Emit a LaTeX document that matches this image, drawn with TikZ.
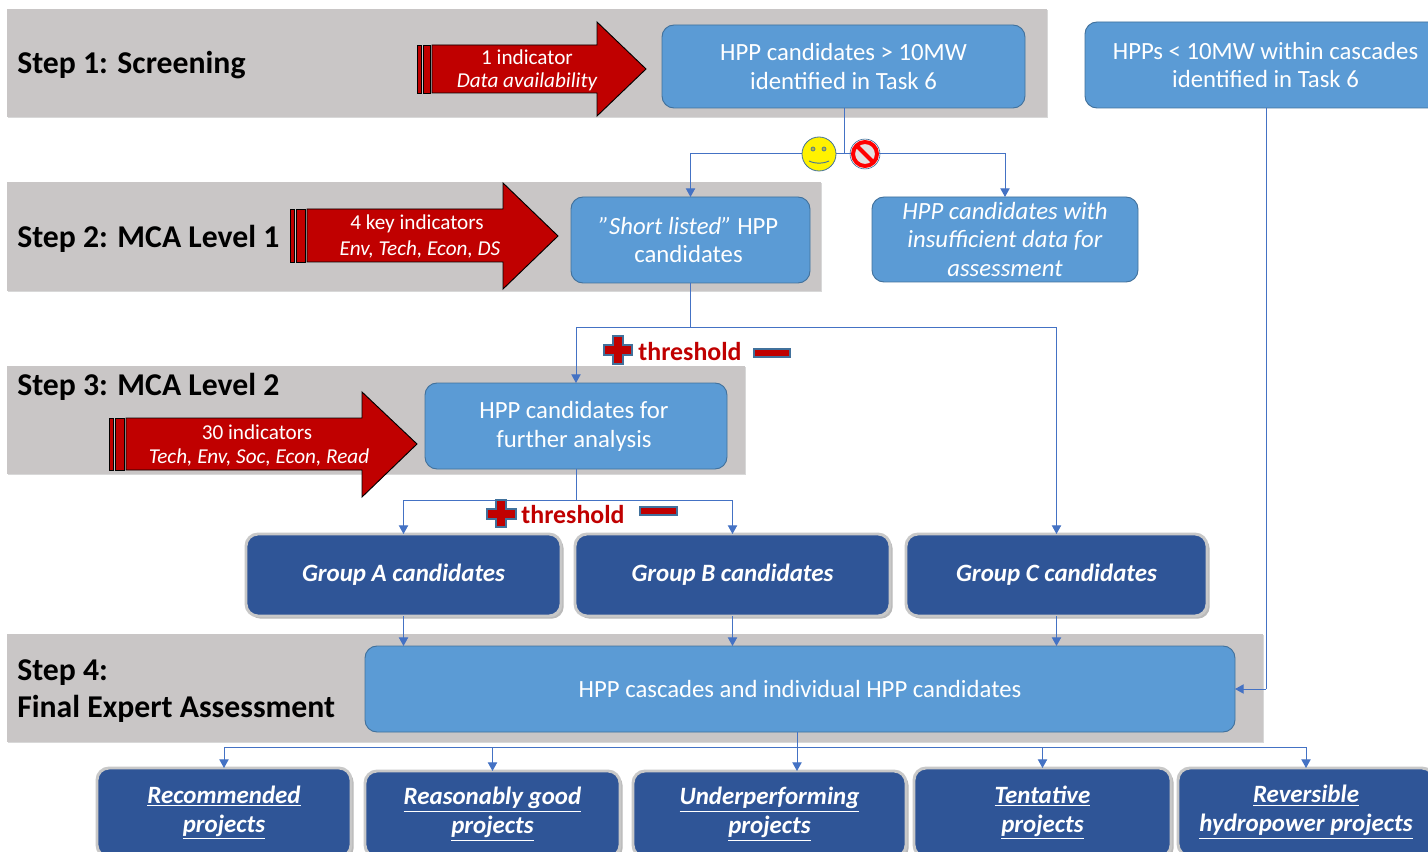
\documentclass[tikz,border=0pt]{standalone}
\usepackage{fontspec}
\setmainfont{Carlito}
\usetikzlibrary{arrows.meta,shadows}
\definecolor{bandgray}{HTML}{C9C6C6}
\definecolor{midblue}{HTML}{5B9BD5}
\definecolor{midedge}{HTML}{41719C}
\definecolor{darkblue}{HTML}{2F5597}
\definecolor{linkblue}{HTML}{4472C4}
\definecolor{arrowred}{HTML}{C00000}
\definecolor{groupedge}{HTML}{C8C8C8}
\newcommand{\pxbox}[7][]{%
  \pgfmathsetmacro{\pxcx}{(#3+#5)/2}\pgfmathsetmacro{\pxcy}{(#4+#6)/2}%
  \pgfmathsetmacro{\pxw}{(#5-#3)*0.75}\pgfmathsetmacro{\pxh}{(#6-#4)*0.75}%
  \node[#1,minimum width=\pxw pt,minimum height=\pxh pt] (#2) at (\pxcx,\pxcy) {#7};}
\tikzset{
  x=0.75pt,y=-0.75pt,
  band/.style={fill=bandgray,draw=none,inner sep=0pt,outer sep=0pt,
    drop shadow={shadow xshift=1pt,shadow yshift=-1pt,fill=black!30,opacity=0.5}},
  midbox/.style={rectangle,rounded corners=9pt,fill=midblue,draw=midedge,line width=0.7pt,
    text=white,font=\fontsize{18.55}{21.7}\selectfont,align=center,inner sep=0pt,outer sep=0pt},
  groupbox/.style={rectangle,rounded corners=9pt,fill=darkblue,draw=groupedge,line width=2.2pt,
    text=white,font=\fontsize{18.7}{21.7}\selectfont\bfseries\itshape,align=center,inner sep=0pt,outer sep=0pt,
    drop shadow={shadow xshift=2pt,shadow yshift=-2pt,fill=black!45,opacity=0.6}},
  steplabel/.style={anchor=west,font=\fontsize{23.8}{27.5}\selectfont\bfseries,text=black,align=left,inner sep=0pt},
  link/.style={draw=linkblue,line width=0.7pt},
  linkarrow/.style={link,-{Triangle[length=6.5pt,width=7pt]}},
  redarrow/.style={fill=arrowred,draw=black,line width=0.7pt,line join=miter},
  stripe/.style={fill=arrowred,draw=black,line width=0.5pt},
  arrowtext/.style={text=white,font=\fontsize{15.9}{18}\selectfont,inner sep=0pt},
  redmark/.style={fill=arrowred,draw=midedge,line width=0.8pt},
  threshold/.style={text=arrowred,font=\fontsize{19.4}{22}\selectfont\bfseries,inner sep=0pt},
}
\begin{document}
\begin{tikzpicture}
\useasboundingbox (0,0) rectangle (1428,852);
\clip (0,0) rectangle (1428,852);
\fill[white] (0,0) rectangle (1428,852);
% bands
\pxbox[band]{band1}{7}{9}{1047}{117}{}
\pxbox[band]{band2}{7}{182}{821}{291}{}
\pxbox[band]{band3}{7}{366}{745}{474}{}
\pxbox[band]{band4}{7}{634}{1263}{742}{}
% step labels
\node[steplabel] (s1) at (17,65) {Step 1: Screening};
\node[steplabel] (s2) at (17,239) {Step 2: MCA Level 1};
\node[steplabel] (s3) at (17,387) {Step 3: MCA Level 2};
\node[steplabel] (s4) at (17,691) {Step 4:\\[0pt]Final Expert Assessment};
% boxes
\pxbox[midbox]{cand}{662}{25}{1025}{108}{HPP candidates > 10MW\\identified in Task 6}
\pxbox[midbox]{small}{1085}{22}{1446}{108}{HPPs < 10MW within cascades\\identified in Task 6}
\pxbox[midbox]{short}{571}{197}{810}{283}{\textit{”Short listed”} HPP\hspace*{3pt}\\candidates\hspace*{3pt}}
\pxbox[midbox]{insuf}{872}{197}{1138}{282}{\textit{HPP candidates with}\\\textit{insufficient data for}\\\textit{assessment}}
\pxbox[midbox]{further}{425}{383}{727}{469}{HPP candidates for\hspace*{3pt}\\further analysis\hspace*{3pt}}
\pxbox[midbox]{casc}{365}{646}{1235}{732}{HPP cascades and individual HPP candidates}
\pxbox[groupbox]{ga}{246}{534}{561}{616}{Group A candidates}
\pxbox[groupbox]{gb}{575}{534}{890}{616}{Group B candidates}
\pxbox[groupbox]{gc}{906}{534}{1207}{616}{Group C candidates}
\pxbox[groupbox]{o1}{97}{768}{351}{857}{\underline{Recommended}\\\underline{projects}}
\pxbox[groupbox]{o2}{365}{771}{620}{857}{\underline{Reasonably good}\\\underline{projects}}
\pxbox[groupbox]{o3}{633}{771}{906}{857}{\underline{Underperforming}\\\underline{projects}}
\pxbox[groupbox]{o4}{914}{768}{1171}{857}{\underline{Tentative}\\\underline{projects}}
\pxbox[groupbox]{o5}{1178}{768}{1434}{856}{\underline{Reversible}\\\underline{hydropower projects}}
% connectors
\coordinate (j1) at (844,153);
\coordinate (j2) at (690,327);
\coordinate (j3) at (576,500);
\coordinate (j4) at (797,747);
\draw[link] (cand.south -| j1) -- (j1);
\draw[linkarrow] (j1) -| (short.north);
\draw[linkarrow] (j1) -| (insuf.north);
\draw[link] (short.south -| j2) -- (j2);
\draw[linkarrow] (j2) -| (further.north);
\draw[linkarrow] (j2) -| (gc.north);
\draw[link] (further.south -| j3) -- (j3);
\draw[linkarrow] (j3) -| (ga.north);
\draw[linkarrow] (j3) -| (gb.north);
\draw[linkarrow] (ga.south) -- (ga.south |- casc.north);
\draw[linkarrow] (gb.south) -- (gb.south |- casc.north);
\draw[linkarrow] (gc.south) -- (gc.south |- casc.north);
\draw[link] (casc.south -| j4) -- (j4);
\draw[linkarrow] (j4) -| (o1.north);
\draw[linkarrow] (j4) -| (o2.north);
\draw[linkarrow] (j4) -- (o3.north -| j4);
\draw[linkarrow] (j4) -| (o4.north);
\draw[linkarrow] (j4) -| (o5.north);
\coordinate (j5) at (1266,689);
\draw[link] (small.south -| j5) -- (j5);
\draw[linkarrow] (j5) -- (casc.east);
% block arrows
\draw[stripe] (417,45) rectangle (421,93);
\draw[stripe] (423,45) rectangle (430,93);
\draw[redarrow] (432,45) -- (597,45) -- (597,22) -- (646,69) -- (597,116) -- (597,93) -- (432,93) -- cycle;
\node[arrowtext] (a1a) at (527,57) {1 indicator};
\node[arrowtext] (a1b) at (527,82) {\itshape Data availability};
\draw[stripe] (290,209) rectangle (294,262);
\draw[stripe] (296,209) rectangle (305,262);
\draw[redarrow] (307,209) -- (503,209) -- (503,183) -- (558,236) -- (503,289) -- (503,262) -- (307,262) -- cycle;
\node[arrowtext] (a2a) at (417,224) {4 key indicators};
\node[arrowtext] (a2b) at (420,249) {\itshape Env, Tech, Econ, DS};
\draw[stripe] (109,418) rectangle (113,470);
\draw[stripe] (115,418) rectangle (124,470);
\draw[redarrow] (126,418) -- (362,418) -- (362,392) -- (417,444) -- (362,497) -- (362,470) -- (126,470) -- cycle;
\node[arrowtext] (a3a) at (257,432) {30 indicators};
\node[arrowtext] (a3b) at (259,457) {\itshape Tech, Env, Soc, Econ, Read};
% smiley and no sign
\node[circle,fill=yellow,draw=midedge,line width=0.6pt,minimum size=25.5pt,inner sep=0pt] (smile) at (819,154) {};
\draw[midedge,line width=0.5pt,fill=yellow!70!black] ([shift={(-6,-5)}]smile.center) circle (1.5pt);
\draw[midedge,line width=0.5pt,fill=yellow!70!black] ([shift={(5,-5)}]smile.center) circle (1.5pt);
\draw[midedge,line width=0.7pt] ([shift={(-10,7)}]smile.center) .. controls ([shift={(-3,10)}]smile.center) and ([shift={(3,10)}]smile.center) .. ([shift={(10,7)}]smile.center);
\node[circle,fill=bandgray!50!white,draw=red,line width=3pt,minimum size=18pt,inner sep=0pt] (nosign) at (865,154) {};
\draw[red,line width=3pt] ([shift={(-8,-8)}]nosign.center) -- ([shift={(8,8)}]nosign.center);
\draw[midedge,line width=0.5pt] (nosign.center) circle (11.2pt);
% thresholds
\draw[redmark] (613,336) -- (623,336) -- (623,345) -- (632,345) -- (632,355) -- (623,355) -- (623,364) -- (613,364) -- (613,355) -- (604,355) -- (604,345) -- (613,345) -- cycle;
\node[threshold] (t1) at (690,352) {threshold};
\draw[redmark] (754,349) rectangle (790,357);
\draw[redmark] (496,500) -- (506,500) -- (506,509) -- (516,509) -- (516,519) -- (506,519) -- (506,527) -- (496,527) -- (496,519) -- (487,519) -- (487,509) -- (496,509) -- cycle;
\node[threshold] (t2) at (573,515) {threshold};
\draw[redmark] (640,507) rectangle (677,515);
\end{tikzpicture}
\end{document}
